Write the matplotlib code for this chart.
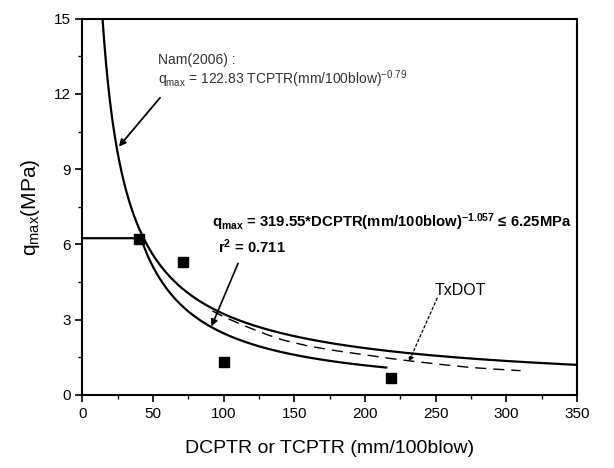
"""q_max vs DCPTR / TCPTR"""
import numpy as np
import matplotlib
matplotlib.use('Agg')
import matplotlib.pyplot as plt

plt.rcParams['font.family'] = ['Liberation Sans', 'DejaVu Sans']
plt.rcParams['mathtext.default'] = 'regular'

# Measured points (mm/100blow, MPa)
tr_meas = [40, 71, 100, 218]
q_meas = [6.2, 5.3, 1.3, 0.66]

# TxDOT relation (dashed)
tr_txdot = [92, 100, 115, 130, 142, 160, 180, 200, 220, 236, 255, 274, 292, 310]
q_txdot = [3.35, 3.12, 2.75, 2.42, 2.19, 1.95, 1.76, 1.60, 1.44, 1.33, 1.21, 1.10, 1.03, 0.97]

# Nam (2006): q = a * TCPTR^b
nam_a, nam_b = 122.83, -0.79
# Fitted relation: q = a * DCPTR^b, capped
fit_a, fit_b, fit_cap = 319.55, -1.057, 6.25
fit_end = 215


def nam(x):
    return nam_a * x ** nam_b


def fitted(x):
    return np.minimum(fit_a * x ** fit_b, fit_cap)


def main():
    fig = plt.figure(figsize=(6.14, 4.68), dpi=100)
    ax = fig.add_axes([0.134, 0.156, 0.806, 0.804])

    x_nam = np.linspace(10, 350, 600)
    ax.plot(x_nam, nam(x_nam), color='black', lw=1.6)

    x_fit = np.linspace(0.5, fit_end, 600)
    ax.plot(x_fit, fitted(x_fit), color='black', lw=1.6)

    ax.plot(tr_txdot, q_txdot, color='black', lw=1.0, linestyle=(0, (8, 5)))

    ax.plot(tr_meas, q_meas, linestyle='none', marker='s', markersize=6.5,
            color='black')

    # annotations
    ax.text(53.5, 13.2, 'Nam(2006) :', fontsize=10, color='#333333')
    ax.text(53.5, 12.4, r'$q_{max}$ = 122.83 TCPTR(mm/100blow)$^{-0.79}$',
            fontsize=10, color='#333333')
    ax.annotate('', xy=(25.9, 9.9), xytext=(55, 11.85),
                arrowprops=dict(arrowstyle='-|>', color='black', lw=1.3,
                                mutation_scale=10, shrinkA=0, shrinkB=0))

    ax.text(91.5, 6.7, r'$q_{max}$ = 319.55*DCPTR(mm/100blow)$^{-1.057}$ ≤ 6.25MPa',
            fontsize=10.7, fontweight='bold')
    ax.text(96, 5.65, r'$r^2$ = 0.711', fontsize=10.7, fontweight='bold')
    ax.annotate('', xy=(91.3, 2.73), xytext=(110.2, 5.25),
                arrowprops=dict(arrowstyle='-|>', color='black', lw=1.2,
                                mutation_scale=10, shrinkA=0, shrinkB=0))

    ax.text(249, 3.99, 'TxDOT', fontsize=11.5)
    ax.annotate('', xy=(231, 1.33), xytext=(251, 3.86),
                arrowprops=dict(arrowstyle='-|>', color='black', lw=0.9,
                                linestyle=(0, (2, 2)), mutation_scale=7,
                                shrinkA=0, shrinkB=0))

    ax.set_xlim(0, 350)
    ax.set_ylim(0, 15)
    ax.set_xticks(np.arange(0, 351, 50))
    ax.set_xticks(np.arange(25, 350, 50), minor=True)
    ax.set_yticks(np.arange(0, 16, 3))
    ax.set_yticks(np.arange(1.5, 15, 3), minor=True)
    ax.tick_params(which='major', direction='out', length=5, width=1.2,
                   labelsize=11)
    ax.tick_params(which='minor', direction='out', length=3, width=1.0)
    for s in ax.spines.values():
        s.set_linewidth(1.5)

    ax.set_xlabel('DCPTR or TCPTR (mm/100blow)', fontsize=14, labelpad=14)
    ax.set_ylabel(r'$q_{max}$(MPa)', fontsize=15, labelpad=8)

    fig.savefig('out.png', dpi=100)


if __name__ == '__main__':
    main()
